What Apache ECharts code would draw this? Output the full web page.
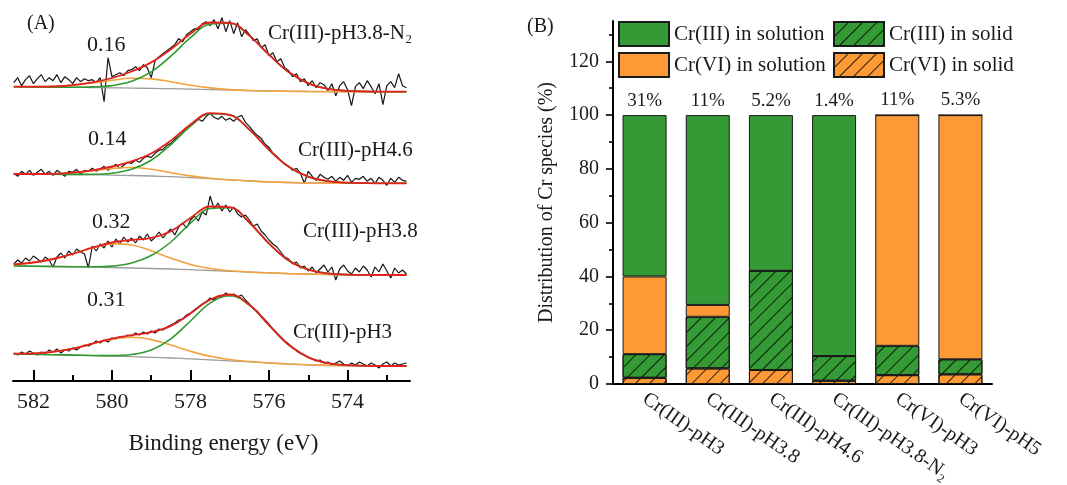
<!DOCTYPE html>
<html><head><meta charset="utf-8">
<script src="https://cdn.jsdelivr.net/npm/echarts@6/dist/echarts.min.js"></script>
<style>html,body{margin:0;padding:0;background:#fff}#c{width:1067px;height:485px}</style>
</head><body><div id="c"></div>
<script>
// ---------- Panel A data (XPS Cr 2p3/2) ----------
const scanEnergy = [582.5,582.4,582.3,582.2,582.1,582.0,581.9,581.8,581.7,581.6,
581.5,581.4,581.3,581.2,581.1,581.0,580.9,580.8,580.7,580.6,
580.5,580.4,580.3,580.2,580.1,580.0,579.9,579.8,579.7,579.6,
579.5,579.4,579.3,579.2,579.1,579.0,578.9,578.8,578.7,578.6,
578.5,578.4,578.3,578.2,578.1,578.0,577.9,577.8,577.7,577.6,
577.5,577.4,577.3,577.2,577.1,577.0,576.9,576.8,576.7,576.6,
576.5,576.4,576.3,576.2,576.1,576.0,575.9,575.8,575.7,575.6,
575.5,575.4,575.3,575.2,575.1,575.0,574.9,574.8,574.7,574.6,
574.5,574.4,574.3,574.2,574.1,574.0,573.9,573.8,573.7,573.6,
573.5,573.4,573.3,573.2,573.1,573.0,572.9,572.8,572.7,572.6,
572.5];
const fitEnergy = [582.5,582.0,581.5,581.0,580.5,580.0,579.5,579.0,578.5,578.0,577.5,577.0,576.5,576.0,575.5,575.0,574.5,574.0,573.5,573.0,572.5];

const sampleLabels = ['Cr(III)-pH3.8-N₂','Cr(III)-pH4.6','Cr(III)-pH3.8','Cr(III)-pH3'];
const ratioLabels = ['0.16','0.14','0.32','0.31'];
const energyTicks = [582,580,578,576,574];
const energyMinorTicks = [581,579,577,575,573];

const rawN2 = [9,14,6,12,16,8,13,17,10,14, 11,17,9,15,12,8,14,10,13,11, 12,9,14,-10,34,15,17,19,16,21, 22,25,21,27,24,14,31,35,38,41, 44,47,53,50,57,60,63,62,68,70, 66,72,63,74,60,71,58,69,55,62, 57,51,53,44,47,36,39,30,33,24, 21,15,18,10,13,6,11,4,9,7, 1,8,-4,6,10,2,-14,5,9,3, 11,5,-2,8,-13,6,10,4,18,6, 4];
const bgN2  = [5.0,4.8,4.6,4.4,4.2,3.9,3.6,3.3,3.0,2.6,2.1,1.6,1.1,0.7,0.4,0.2,0.1,0,0,0,0];
const cr6N2 = [5.0,5.0,5.3,6.4,8.7,11.5,13.4,12.8,10.0,6.5,3.8,2.1,1.2,0.7,0.4,0.2,0.1,0,0,0,0];
const cr3N2 = [5.0,4.8,4.6,4.5,4.8,6.1,10.4,19.8,35.5,54.0,67.5,68.4,56.0,37.0,19.6,8.4,2.9,0.8,0.2,0,0];
const envN2 = [5.0,5.0,5.3,6.5,9.3,13.7,20.2,29.3,42.5,57.9,69.2,68.9,56.1,37.0,19.6,8.4,2.9,0.8,0.2,0,0];

const raw46 = [10,7,12,9,13,8,11,14,9,12, 8,13,10,7,12,11,14,9,13,12, 15,12,14,17,13,16,19,15,18,21, 20,23,21,25,27,26,30,33,34,38, 40,44,47,51,54,58,61,64,62,67, 70,66,64,67,63,65,62,66,68,61, 57,52,48,45,39,36,30,27,23,19, 17,13,15,10,0,12,7,3,9,6, 4,7,2,6,3,8,1,5,4,7, 2,5,0,6,3,-2,5,1,6,3, 2];
const bg46  = [9.3,9.2,9.0,8.8,8.5,8.2,7.8,7.3,6.6,5.7,4.6,3.4,2.3,1.4,0.8,0.4,0.2,0.1,0,0,0];
const cr6_46 = [9.3,9.3,9.5,10.5,12.5,14.9,15.8,14.0,10.6,7.4,5.1,3.5,2.3,1.4,0.8,0.4,0.2,0.1,0,0,0];
const cr3_46 = [9.3,9.2,9.0,8.9,9.0,10.1,14.0,23.1,38.7,57.1,69.6,68.4,53.7,33.5,16.6,6.6,2.1,0.6,0.1,0,0];
const env46 = [9.3,9.3,9.5,10.6,13.0,16.8,22.0,29.8,42.7,58.8,70.1,68.5,53.7,33.5,16.6,6.6,2.1,0.6,0.1,0,0];

const raw38 = [11,15,12,17,14,19,16,13,18,15, 8,18,22,17,24,20,26,23,21,7, 29,24,31,27,34,28,36,31,38,33, 37,32,39,35,41,34,38,43,37,42, 46,40,48,52,47,55,59,54,63,60, 79,66,72,64,70,63,68,61,58,60, 55,49,51,44,40,35,31,28,23,18, 16,11,13,7,9,4,8,2,6,10, 3,8,-5,6,10,4,1,7,3,9, 5,-2,8,3,11,4,-3,7,2,5, 1];
const bg38  = [9.0,8.8,8.5,8.2,7.9,7.5,7.0,6.5,6.0,5.3,4.5,3.7,2.9,2.1,1.4,0.9,0.5,0.2,0.1,0,0];
const cr6_38 = [10.6,12.5,16.0,21.0,27.0,31.1,30.0,24.2,16.8,10.5,6.5,4.3,3.0,2.1,1.4,0.9,0.5,0.2,0.1,0,0];
const cr3_38 = [9.0,8.8,8.5,8.3,8.2,8.9,12.0,19.5,33.0,51.8,66.5,67.3,52.4,31.4,14.5,5.4,1.6,0.4,0.1,0,0];
const env38 = [10.6,12.5,16.0,21.1,27.3,32.5,35.0,37.2,43.8,57.0,68.5,67.9,52.5,31.4,14.5,5.4,1.6,0.4,0.1,0,0];

const raw3 = [13,11,14,12,15,13,11,14,12,16, 14,17,13,16,15,18,16,19,21,20, 22,25,23,26,24,28,27,29,28,31, 30,33,31,34,32,35,33,37,36,39, 41,43,46,47,51,53,56,59,62,64, 68,66,70,69,73,70,72,69,71,66, 62,57,55,50,46,42,37,33,29,25, 22,18,16,13,11,9,7,5,6,3, 4,1,3,5,2,0,3,1,4,2, 0,3,1,-2,2,4,0,3,1,2, 3];
const bg3  = [12.0,11.7,11.3,10.9,10.4,9.9,9.3,8.7,8.0,7.2,6.2,5.2,4.1,3.0,2.0,1.2,0.6,0.3,0.1,0,0];
const cr6_3 = [12.3,12.7,14.2,17.4,22.2,26.8,28.7,26.4,20.9,14.7,9.7,6.5,4.5,3.1,2.0,1.2,0.6,0.3,0.1,0,0];
const cr3_3 = [12.0,11.7,11.3,10.9,10.5,10.4,11.5,16.1,27.2,45.0,62.9,70.2,60.8,40.8,21.2,8.6,2.8,0.8,0.2,0,0];
const env3 = [12.3,12.7,14.2,17.4,22.3,27.3,30.9,33.8,40.1,52.5,66.4,71.5,61.2,40.9,21.2,8.6,2.8,0.8,0.2,0,0];

// ---------- Panel B data ----------
const categories = ['Cr(III)-pH3','Cr(III)-pH3.8','Cr(III)-pH4.6','Cr(III)-pH3.8-N₂','Cr(VI)-pH3','Cr(VI)-pH5'];
const cr6Solid    = [2.3, 5.8, 5.2, 1.2, 3.3, 3.6];
const cr3Solid    = [8.8, 19.2, 36.9, 9.2, 10.9, 5.6];
const cr6Solution = [28.9, 4.4, 0, 0, 85.8, 90.8];
const cr3Solution = [60.0, 70.6, 57.9, 89.6, 0, 0];
const solidShareLabels = ['31%','11%','5.2%','1.4%','11%','5.3%'];
const percentTicks = [0,20,40,60,80,100,120];
const percentMinorTicks = [10,30,50,70,90,110,130];

// ---------- build ----------
const FONT = 'Liberation Serif';
const TXT = '#1a1a1a';
const C_RAW = '#161616', C_ENV = '#e3201b', C_CR3 = '#2f9a2f', C_CR6 = '#f2a23e', C_BG = '#9c9c9c';
const GREEN = '#359a35', ORANGE = '#fd9a36';

const traces = [
  {raw: rawN2, bg: bgN2, cr6: cr6N2, cr3: cr3N2, env: envN2, base: 289.3},
  {raw: raw46, bg: bg46, cr6: cr6_46, cr3: cr3_46, env: env46, base: 197.7},
  {raw: raw38, bg: bg38, cr6: cr6_38, cr3: cr3_38, env: env38, base: 106},
  {raw: raw3,  bg: bg3,  cr6: cr6_3,  cr3: cr3_3,  env: env3,  base: 15}
];

const series = [];
traces.forEach(t => {
  const pts = (xs, ys) => xs.map((x, i) => [x, ys[i] + t.base]);
  const common = {type: 'line', xAxisIndex: 0, yAxisIndex: 0, showSymbol: false, symbol: 'none', silent: true, animation: false};
  series.push(Object.assign({}, common, {data: pts(scanEnergy, t.raw), lineStyle: {color: C_RAW, width: 1.2}, z: 2}));
  series.push(Object.assign({}, common, {data: pts(fitEnergy, t.bg), smooth: 0.4, lineStyle: {color: C_BG, width: 1.3}, z: 3}));
  series.push(Object.assign({}, common, {data: pts(fitEnergy, t.cr6), smooth: 0.4, lineStyle: {color: C_CR6, width: 1.6}, z: 4}));
  series.push(Object.assign({}, common, {data: pts(fitEnergy, t.cr3), smooth: 0.4, lineStyle: {color: C_CR3, width: 1.6}, z: 5}));
  series.push(Object.assign({}, common, {data: pts(fitEnergy, t.env), smooth: 0.4, lineStyle: {color: C_ENV, width: 1.8}, z: 6}));
});

const hatch = {symbol: 'rect', symbolSize: 1, dashArrayX: [1, 0], dashArrayY: [1, 9], rotation: -Math.PI / 4, color: 'rgba(0,0,0,0.8)'};
const barBase = {type: 'bar', stack: 'cr', xAxisIndex: 2, yAxisIndex: 1, barWidth: 44, animation: false};
series.push(Object.assign({}, barBase, {name: 'Cr(VI) in solid', data: cr6Solid,
  itemStyle: {color: ORANGE, borderColor: '#1a1a1a', borderWidth: 1, decal: hatch}}));
series.push(Object.assign({}, barBase, {name: 'Cr(III) in solid', data: cr3Solid,
  itemStyle: {color: GREEN, borderColor: '#1a1a1a', borderWidth: 1, decal: hatch}}));
series.push(Object.assign({}, barBase, {name: 'Cr(VI) in solution', data: cr6Solution,
  itemStyle: {color: ORANGE, borderColor: '#1a1a1a', borderWidth: 1}}));
series.push(Object.assign({}, barBase, {name: 'Cr(III) in solution', data: cr3Solution,
  itemStyle: {color: GREEN, borderColor: '#1a1a1a', borderWidth: 1},
  label: {show: true, position: 'top', distance: 5, fontFamily: FONT, fontSize: 19, color: TXT,
    formatter: p => solidShareLabels[p.dataIndex]}}));

const gText = (text, x, y, size) => ({type: 'text', x: x, y: y, silent: true,
  style: {text: text, font: size + 'px "' + FONT + '"', fill: TXT, align: 'left', verticalAlign: 'middle', textAlign: 'left', textVerticalAlign: 'middle'}});

const annotPos = [
  {r: [87, 45], s: [268, 33]},
  {r: [88, 139], s: [298, 150]},
  {r: [92, 222], s: [303, 231]},
  {r: [87, 300], s: [293, 332]}
];
const graphics = [gText('(A)', 27, 24, 20), gText('(B)', 527, 27, 20)];
annotPos.forEach((p, i) => {
  graphics.push(gText(ratioLabels[i], p.r[0], p.r[1], 22));
  graphics.push(gText(sampleLabels[i], p.s[0], p.s[1], 21));
});

const legendCommon = {orient: 'vertical', top: 21, padding: 0, itemWidth: 50, itemHeight: 24, itemGap: 5, icon: 'rect',
  textStyle: {fontFamily: FONT, fontSize: 21, color: TXT}, selectedMode: false};

const option = {
  backgroundColor: '#fff',
  animation: false,
  grid: [
    {left: 13, right: 657, top: 10, bottom: 104, outerBoundsMode: 'none', containLabel: false},
    {left: 613, right: 75, top: 21, bottom: 101, outerBoundsMode: 'none', containLabel: false}
  ],
  legend: [
    Object.assign({}, legendCommon, {left: 618, data: ['Cr(III) in solution', 'Cr(VI) in solution']}),
    Object.assign({}, legendCommon, {left: 833, data: ['Cr(III) in solid', 'Cr(VI) in solid']})
  ],
  xAxis: [
    {type: 'value', gridIndex: 0, position: 'bottom', inverse: true, min: 572.41, max: 582.52,
      axisLine: {show: true, onZero: false, lineStyle: {color: '#000', width: 2}},
      axisTick: {show: true, inside: true, length: 11, customValues: energyTicks, lineStyle: {color: '#000', width: 2}},
      axisLabel: {show: true, customValues: energyTicks, margin: 10, fontFamily: FONT, fontSize: 22, color: TXT},
      splitLine: {show: false},
      name: 'Binding energy (eV)', nameLocation: 'middle', nameGap: 51,
      nameTextStyle: {fontFamily: FONT, fontSize: 23, color: TXT, padding: [0, 0, 0, 24]}},
    {type: 'value', gridIndex: 0, position: 'bottom', inverse: true, min: 572.41, max: 582.52,
      axisLine: {show: false},
      axisTick: {show: true, inside: true, length: 6, customValues: energyMinorTicks, lineStyle: {color: '#000', width: 2}},
      axisLabel: {show: false}, splitLine: {show: false}},
    {type: 'category', gridIndex: 1, data: categories, boundaryGap: true,
      axisLine: {show: true, onZero: false, lineStyle: {color: '#000', width: 2}},
      axisTick: {show: false},
      axisLabel: {rotate: -35, margin: 13, fontFamily: FONT, fontSize: 20, color: TXT, interval: 0},
      splitLine: {show: false}}
  ],
  yAxis: [
    {type: 'value', gridIndex: 0, min: 0, max: 371, show: false},
    {type: 'value', gridIndex: 1, position: 'left', min: 0, max: 135,
      axisLine: {show: true, lineStyle: {color: '#000', width: 2}},
      axisTick: {show: true, length: 7, customValues: percentTicks, lineStyle: {color: '#000', width: 1.6}},
      axisLabel: {show: true, customValues: percentTicks, margin: 14, fontFamily: FONT, fontSize: 20, color: TXT},
      splitLine: {show: false},
      name: 'Distribution of Cr species (%)', nameLocation: 'middle', nameGap: 56,
      nameTextStyle: {fontFamily: FONT, fontSize: 20, color: TXT}},
    {type: 'value', gridIndex: 1, position: 'left', min: 0, max: 135,
      axisLine: {show: false},
      axisTick: {show: true, length: 4, customValues: percentMinorTicks, lineStyle: {color: '#000', width: 1.6}},
      axisLabel: {show: false}, splitLine: {show: false}}
  ],
  graphic: graphics,
  series: series
};

const chart = echarts.init(document.getElementById('c'), null, {renderer: 'canvas'});
chart.setOption(option);
</script>
</body></html>
